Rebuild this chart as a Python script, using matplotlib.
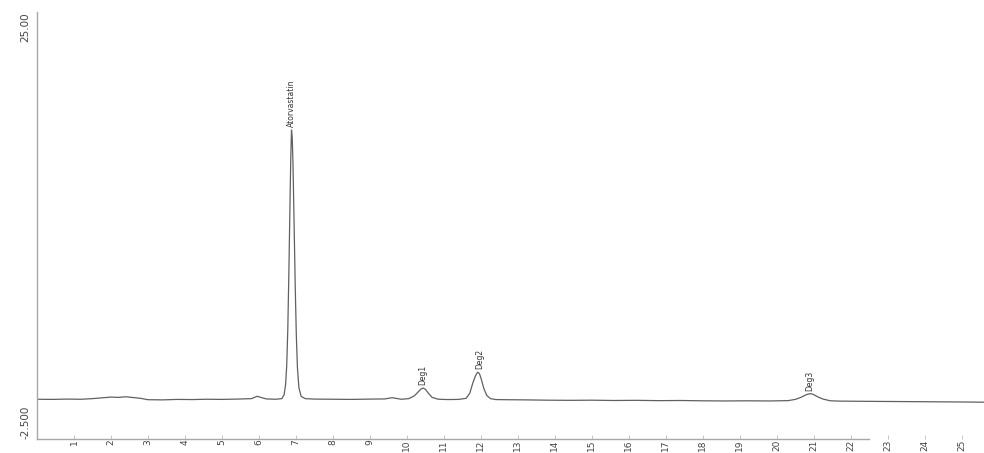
import matplotlib
matplotlib.use("Agg")
import matplotlib.pyplot as plt

# Chromatogram trace: retention time (min) and detector response
time_min = [
    0.00, 0.40, 0.80, 1.20, 1.50, 1.80, 2.00, 2.20, 2.40, 2.60, 2.80, 3.00,
    3.40, 3.80, 4.20, 4.60, 5.00, 5.40, 5.80, 5.95, 6.05, 6.20, 6.45, 6.62,
    6.68, 6.72, 6.75, 6.78, 6.81, 6.84, 6.86, 6.88, 6.90, 6.92, 6.95, 6.98,
    7.01, 7.04, 7.08, 7.14, 7.25, 7.50, 8.00, 8.50, 9.00, 9.40, 9.60, 9.70,
    9.85, 10.05, 10.20, 10.30, 10.38, 10.44, 10.50, 10.58, 10.68, 10.85, 11.10,
    11.40, 11.60, 11.70, 11.78, 11.85, 11.91, 11.96, 12.01, 12.08, 12.16,
    12.26, 12.40, 12.70, 13.20, 13.80, 14.40, 15.00, 15.60, 16.20, 16.80,
    17.40, 18.00, 18.60, 19.20, 19.80, 20.30, 20.50, 20.65, 20.80, 20.90,
    20.98, 21.10, 21.25, 21.45, 21.70, 22.20, 22.80, 23.40, 24.00, 24.60,
    25.20, 25.60,
]
signal = [
    0.06, 0.05, 0.07, 0.06, 0.10, 0.16, 0.20, 0.18, 0.22, 0.17, 0.12, 0.03,
    0.02, 0.05, 0.04, 0.06, 0.05, 0.07, 0.10, 0.25, 0.18, 0.08, 0.06, 0.10,
    0.35, 1.00, 2.20, 4.60, 8.40, 12.80, 15.60, 17.40, 16.90, 15.20, 11.40,
    7.40, 4.20, 2.10, 0.80, 0.25, 0.10, 0.07, 0.06, 0.05, 0.07, 0.08, 0.16,
    0.12, 0.06, 0.10, 0.28, 0.52, 0.72, 0.78, 0.70, 0.45, 0.18, 0.06, 0.04,
    0.05, 0.12, 0.45, 1.10, 1.55, 1.80, 1.72, 1.35, 0.75, 0.30, 0.10, 0.04,
    0.03, 0.02, 0.00, -0.01, 0.00, -0.02, -0.01, -0.03, -0.02, -0.04, -0.05,
    -0.04, -0.05, -0.03, 0.05, 0.18, 0.36, 0.42, 0.38, 0.22, 0.07, -0.04,
    -0.06, -0.07, -0.08, -0.09, -0.10, -0.11, -0.12, -0.13,
]

# Peak annotations: name, retention time, response at apex
peak_names = ["Atorvastatin", "Deg1", "Deg2", "Deg3"]
peak_times = [6.88, 10.44, 11.96, 20.90]
peak_heights = [17.40, 0.78, 1.80, 0.42]

x_ticks = list(range(1, 26))
y_ticks = [-2.5, 25.0]
y_tick_labels = ["-2.500", "25.00"]

fig = plt.figure(figsize=(9.84, 4.53), dpi=100)
ax = fig.add_axes([37 / 984, 1 - 439 / 453, 1 - 37 / 984, (439 - 12) / 453])

ax.plot(time_min, signal, color="#606060", linewidth=0.9)

ax.set_xlim(0, 25.6)
ax.set_ylim(-2.5, 25.0)

for spine in ("top", "right"):
    ax.spines[spine].set_visible(False)
for spine in ("left", "bottom"):
    ax.spines[spine].set_color("#a8a8a8")
    ax.spines[spine].set_linewidth(1.0)
ax.spines["bottom"].set_bounds(0, 22.5)

ax.set_xticks(x_ticks)
ax.set_xticklabels([str(t) for t in x_ticks], rotation=90, fontsize=6.5,
                   color="#444444")
ax.tick_params(axis="x", direction="in", length=3, width=0.6, color="#bbbbbb",
               pad=0.5)

ax.set_yticks(y_ticks)
ax.set_yticklabels(y_tick_labels, rotation=90, fontsize=7.5, color="#444444")
ax.tick_params(axis="y", length=0, pad=5)
ylabels = ax.get_yticklabels()
ylabels[0].set_verticalalignment("bottom")
ylabels[1].set_verticalalignment("top")

for name, t, h in zip(peak_names, peak_times, peak_heights):
    ax.annotate(name, xy=(t, h), xytext=(0, 2), textcoords="offset points",
                rotation=90, ha="center", va="bottom", fontsize=5.5,
                color="#333333")

fig.savefig("out.png", dpi=100, facecolor="white")
